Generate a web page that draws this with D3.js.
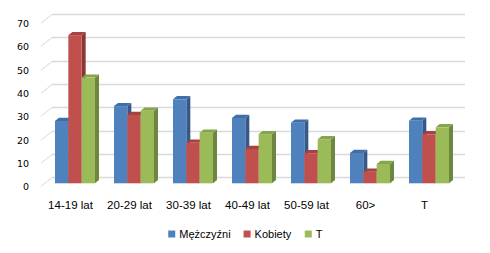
<!DOCTYPE html>
<html>
<head>
<meta charset="utf-8">
<script src="https://cdn.jsdelivr.net/npm/d3@7"></script>
<style>
  body { margin: 0; background: #fff; }
  text { font-family: "Liberation Sans", Arial, sans-serif; fill: #000; }
</style>
</head>
<body>
<svg id="chart" width="490" height="253"></svg>
<script>
var categories = ["14-19 lat", "20-29 lat", "30-39 lat", "40-49 lat", "50-59 lat", "60>", "T"];
var seriesNames = ["Mężczyźni", "Kobiety", "T"];
var men   = [26.7, 33.1, 36.0, 28.0, 26.0, 13.0, 26.8];
var women = [63.5, 29.3, 17.4, 14.7, 12.9, 5.0, 21.0];
var total = [45.3, 31.1, 21.7, 21.1, 18.9, 8.3, 24.0];
var yTicks = [0, 10, 20, 30, 40, 50, 60, 70];

var front = ["#4f81bd", "#c0504d", "#9bbb59"];
var side  = ["#36598a", "#8b3735", "#6e8740"];
var top_  = ["#3f6ea8", "#a8413f", "#86a44a"];

var series = [men, women, total];

var svg = d3.select("#chart");

// depth of the floor / side wall and of each bar
var wallDx = 11, wallDy = 8.7;
var barDx = 4, barDy = 3.2;

var backLeft = 52, backRight = 465;

var yBack = d3.scaleLinear().domain([0, 70]).range([177.3, 14]);
var yFront = d3.scaleLinear().domain([0, 70]).range([183.3, 20]);

var xFront = d3.scaleBand().domain(categories).range([45.5, 458.5]);
var xLabel = d3.scaleBand().domain(categories).range([backLeft - wallDx, backRight - wallDx]);
var xSeries = d3.scaleBand().domain(d3.range(3)).range([0, 40]);

// gridlines on back wall + diagonal on the floor side
var grid = svg.append("g");
yTicks.forEach(function(v) {
  var y = Math.round(yBack(v)) + 0.5;
  grid.append("line")
    .attr("x1", backLeft).attr("x2", backRight)
    .attr("y1", y).attr("y2", y)
    .attr("stroke", "#d9d9d9").attr("stroke-width", 1.5);
  grid.append("line")
    .attr("x1", backLeft - wallDx).attr("y1", y + wallDy)
    .attr("x2", backLeft).attr("y2", y)
    .attr("stroke", "#d9d9d9").attr("stroke-width", 1);
  grid.append("text")
    .attr("x", 29).attr("y", y + wallDy + 3.5)
    .attr("text-anchor", "end")
    .style("font-family", "'DejaVu Sans', sans-serif")
    .style("font-size", "9.5px")
    .text(v);
});

// bars
var bars = svg.append("g");
categories.forEach(function(c, i) {
  var gx = xFront(c) + (xFront.bandwidth() - 40) / 2;
  series.forEach(function(s, k) {
    var x0 = gx + xSeries(k), w = xSeries.bandwidth();
    var yb = yFront(0), yt = yFront(s[i]);
    // side face
    bars.append("path")
      .attr("d", "M" + (x0 + w) + "," + yt + "L" + (x0 + w + barDx) + "," + (yt - barDy) +
        "L" + (x0 + w + barDx) + "," + (yb - barDy) + "L" + (x0 + w) + "," + yb + "Z")
      .attr("fill", side[k]);
    // top face
    bars.append("path")
      .attr("d", "M" + x0 + "," + yt + "L" + (x0 + barDx) + "," + (yt - barDy) +
        "L" + (x0 + w + barDx) + "," + (yt - barDy) + "L" + (x0 + w) + "," + yt + "Z")
      .attr("fill", top_[k]);
    // front face
    bars.append("rect")
      .attr("x", x0).attr("y", yt)
      .attr("width", w).attr("height", yb - yt)
      .attr("fill", front[k]);
  });
});

// category labels
svg.append("g").selectAll("text").data(categories).enter().append("text")
  .attr("x", function(d) { return xLabel(d) + xLabel.bandwidth() / 2; })
  .attr("y", 209)
  .attr("text-anchor", "middle")
  .style("font-size", "11.5px")
  .text(function(d) { return d; });

// legend
var legend = svg.append("g");
var items = legend.selectAll("g").data(seriesNames).enter().append("g");
items.append("rect").attr("width", 7).attr("height", 7).attr("y", -3.5)
  .attr("fill", function(d, i) { return front[i]; });
items.append("text").attr("x", 11).attr("y", 4)
  .style("font-size", "11px")
  .text(function(d) { return d; });
var lx = 0, widths = [];
items.each(function() { widths.push(this.getBBox().width); });
var totalW = d3.sum(widths) + 13 * (widths.length - 1);
lx = 245.5 - totalW / 2;
items.attr("transform", function(d, i) {
  var t = "translate(" + lx + ",234)";
  lx += widths[i] + 13;
  return t;
});
</script>
</body>
</html>
